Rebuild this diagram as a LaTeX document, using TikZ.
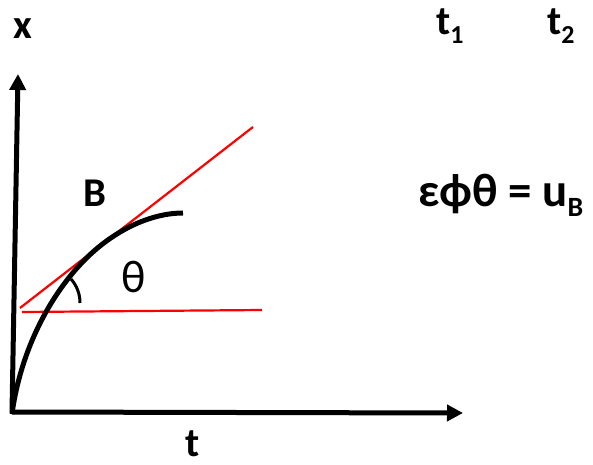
\documentclass[tikz,border=0pt]{standalone}
\usepackage{fontspec}
\setmainfont{Carlito}
\usetikzlibrary{arrows.meta}
\tikzset{
  axis/.style={line width=5bp,-{Triangle[length=16bp,width=16bp]}},
  redline/.style={red,line width=2.2bp},
  curveline/.style={line width=5bp},
  lbl/.style={inner sep=0pt,anchor=base west,font=\fontsize{41}{45}\selectfont\bfseries},
}
\newcommand{\mysub}[1]{\raisebox{-0.22em}{\fontsize{26}{28}\selectfont #1}}
\begin{document}
\begin{tikzpicture}[x=1bp,y=-1bp]
\useasboundingbox (0,0) rectangle (593,465);
\coordinate (O) at (12,412);
\coordinate (ytip) at (18,74);
\coordinate (xtip) at (463,413);
\draw[axis] (O) -- (ytip);
\draw[axis] (O) -- (xtip);
% red lines
\coordinate (r1) at (20,308);
\coordinate (r2) at (253,127);
\coordinate (h1) at (22,312);
\coordinate (h2) at (262,310);
\draw[redline] (r1) -- (r2);
\draw[redline] (h1) -- (h2);
% curve
\coordinate (T) at (100,246);
\coordinate (E) at (183,213);
\draw[curveline] (12,414) .. controls (22,340) and (60,278) .. (T)
  .. controls (130,222) and (160,213) .. (E);
% angle arc
\coordinate (a1) at (80,303);
\coordinate (a2) at (71,279);
\draw[line width=3bp] (a1) .. controls (80,294) and (77,286) .. (a2);
% labels
\node[lbl] (xl) at (13,39) {x};
\node[lbl] (t1) at (436,35) {t\mysub{1}};
\node[lbl] (t2) at (547,35) {t\mysub{2}};
\node[lbl] (B) at (83,207) {B};
\node[lbl,font=\fontsize{47}{50}\selectfont\bfseries] (eq) at (418,207) {εϕθ = u\raisebox{-0.2em}{\fontsize{28}{29}\selectfont B}};
\node[lbl,font=\fontsize{46}{50}\selectfont] (th) at (121,293) {θ};
\node[lbl] (tl) at (185,456) {t};
\end{tikzpicture}
\end{document}
